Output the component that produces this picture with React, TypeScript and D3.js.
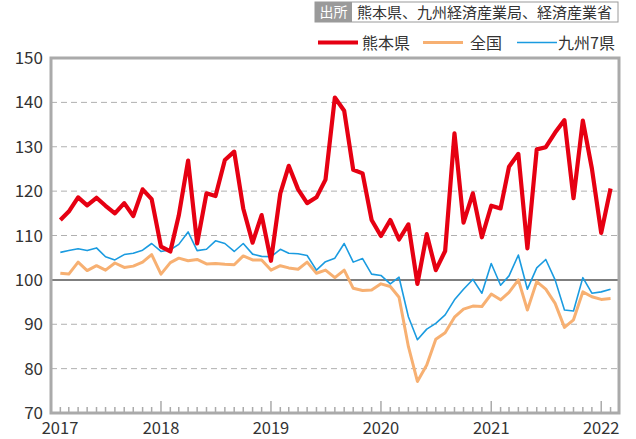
import React from "react";
import * as d3 from "d3";

// Months: Feb 2017 .. Feb 2022 (61 points)
const startMonth = new Date(2017, 1, 1);
const kumamoto = [
  113.5, 115.4, 118.6, 116.8, 118.5, 116.7, 115.0, 117.3, 114.4, 120.4, 118.2, 107.5,
  106.4, 114.5, 126.9, 108.2, 119.5, 118.9, 127.0, 128.9, 116.1, 108.4, 114.6, 104.3,
  119.5, 125.7, 120.4, 117.3, 118.6, 122.6, 141.1, 138.1, 124.8, 124.0, 113.5, 109.9,
  113.5, 109.1, 112.5, 99.1, 110.3, 102.2, 106.5, 133.0, 112.9, 119.5, 109.6, 116.7,
  116.1, 125.5, 128.4, 107.1, 129.4, 129.9, 133.2, 136.0, 118.4, 135.9, 125.1, 110.6,
  120.6,
];
const national = [
  101.5, 101.3, 104.0, 102.1, 103.2, 102.2, 103.8, 102.8, 103.1, 104.0, 105.7, 101.3,
  103.9, 104.9, 104.3, 104.6, 103.6, 103.7, 103.5, 103.4, 105.4, 104.5, 104.5, 102.2,
  103.2, 102.7, 102.4, 104.0, 101.5, 102.2, 100.5, 102.2, 98.1, 97.6, 97.7, 99.1,
  98.5, 96.1, 85.0, 77.1, 80.8, 86.6, 88.1, 91.6, 93.4, 94.1, 94.0, 96.8,
  95.5, 97.2, 100.0, 93.2, 99.6, 97.9, 94.7, 89.3, 91.0, 97.3, 96.2, 95.6,
  95.8,
];
const kyushu7 = [
  106.2, 106.6, 107.0, 106.6, 107.2, 105.2, 104.5, 105.7, 106.0, 106.7, 108.2, 106.4,
  106.8, 108.0, 110.8, 106.6, 106.9, 108.8, 108.2, 106.4, 108.2, 105.8, 105.3, 105.2,
  106.9, 106.0, 105.9, 105.5, 102.2, 104.1, 104.9, 108.2, 104.0, 104.8, 101.3, 101.0,
  99.1, 100.6, 91.7, 86.5, 88.9, 90.2, 92.1, 95.5, 97.9, 100.1, 97.0, 103.7,
  98.8, 100.9, 105.6, 97.9, 102.7, 104.6, 100.0, 93.2, 93.0, 100.5, 97.0, 97.3,
  97.9,
];
const yTicks = [70, 80, 90, 100, 110, 120, 130, 140, 150];
const yearTicks = [2017, 2018, 2019, 2020, 2021, 2022];
const seriesNames = ["熊本県", "全国", "九州7県"];
const sourceLabel = "出所";
const sourceText = "熊本県、九州経済産業局、経済産業省";

const W = 636;
const H = 439;
const L = 51, R = 619, T = 58, B = 413;
const FONT = "'Noto Sans CJK JP', 'Noto Sans', sans-serif";

export default function App() {
  const months = national.map((_, i) => d3.timeMonth.offset(startMonth, i));
  const x = d3.scaleTime().domain([new Date(2017, 0, 1), new Date(2022, 2, 1)]).range([L, R]);
  const y = d3.scaleLinear().domain([70, 150]).range([B, T]);
  const line = d3
    .line<number>()
    .x((_, i) => x(months[i]))
    .y((d) => y(d));
  const monthTicks = d3.timeMonth.range(new Date(2017, 0, 1), new Date(2022, 2, 2));

  const colors = ["#e60012", "#f7b072", "#1a9be0"];
  const widths = [4.2, 3, 1.6];

  return (
    <svg
      width={W}
      height={H}
      style={{ position: "absolute", left: 0, top: 0, background: "#fff" }}
      fontFamily={FONT}
    >
      {/* source box */}
      <rect x={315} y={2} width={303} height={20} fill="#fff" stroke="#9a9a9a" strokeWidth={1} />
      <rect x={315} y={2} width={37} height={20} fill="#9a9a9a" />
      <text x={333.5} y={17} fontSize={14} fill="#fff" textAnchor="middle">
        {sourceLabel}
      </text>
      <text x={357} y={17.5} fontSize={15} fill="#333">
        {sourceText}
      </text>

      {/* legend */}
      {[
        { x0: 318, x1: 358, tx: 362 },
        { x0: 423, x1: 463, tx: 470 },
        { x0: 517, x1: 557, tx: 558 },
      ].map((p, k) => (
        <g key={k}>
          <line x1={p.x0} x2={p.x1} y1={42.5} y2={42.5} stroke={colors[k]} strokeWidth={widths[k]} />
          <text x={p.tx} y={48.5} fontSize={16} fill="#333">
            {seriesNames[k]}
          </text>
        </g>
      ))}

      {/* grid */}
      {yTicks
        .filter((v) => v !== 70 && v !== 100)
        .map((v) => (
          <line
            key={v}
            x1={L}
            x2={R}
            y1={y(v)}
            y2={y(v)}
            stroke="#b0b0b0"
            strokeWidth={1}
            strokeDasharray="6,4"
          />
        ))}
      <line x1={L} x2={R} y1={y(100)} y2={y(100)} stroke="#555" strokeWidth={1.5} />

      {/* month ticks */}
      {monthTicks.map((m, i) => {
        const isYear = m.getMonth() === 0;
        return (
          <line
            key={i}
            x1={x(m)}
            x2={x(m)}
            y1={B}
            y2={B - (isYear ? 12 : 6)}
            stroke="#aaa"
            strokeWidth={1.5}
          />
        );
      })}

      {/* series */}
      <path d={line(national) ?? ""} fill="none" stroke={colors[1]} strokeWidth={widths[1]} strokeLinejoin="round" />
      <path d={line(kyushu7) ?? ""} fill="none" stroke={colors[2]} strokeWidth={widths[2]} strokeLinejoin="round" />
      <path d={line(kumamoto) ?? ""} fill="none" stroke={colors[0]} strokeWidth={widths[0]} strokeLinejoin="round" />

      {/* frame */}
      <rect x={L} y={T} width={R - L} height={B - T} fill="none" stroke="#aaa" strokeWidth={3} />

      {/* y labels */}
      {yTicks.map((v) => (
        <text key={v} x={43} y={y(v) + 6} fontSize={17} fill="#333" textAnchor="end">
          {v}
        </text>
      ))}

      {/* x labels */}
      {yearTicks.map((yr) => {
        const px = yr === 2017 ? 60 : x(new Date(yr, 0, 1));
        return (
          <text key={yr} x={px} y={434} fontSize={16.5} fill="#333" textAnchor="middle">
            {yr}
          </text>
        );
      })}
    </svg>
  );
}
